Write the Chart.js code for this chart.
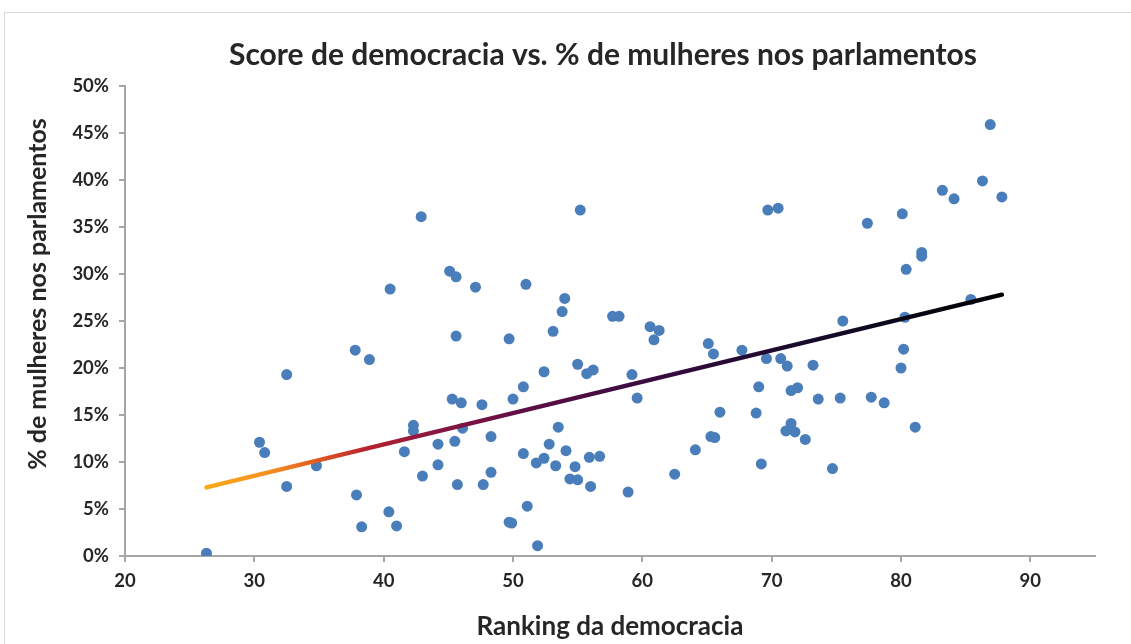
<!DOCTYPE html>
<html lang="pt">
<head>
<meta charset="utf-8">
<title>Score de democracia vs. % de mulheres nos parlamentos</title>
<script src="https://cdn.jsdelivr.net/npm/chart.js@4.4.1/dist/chart.umd.min.js"></script>
<style>
    html, body { margin: 0; padding: 0; background: #fff; overflow: hidden; }
    #wrap { position: relative; width: 1131px; height: 644px; }
    #frame {
        position: absolute; left: 4px; top: 12px; width: 1200px; height: 700px;
        border: 1px solid #d9d9d9; pointer-events: none;
    }
</style>
</head>
<body>
<div id="wrap">
    <canvas id="scatterChart" width="1131" height="644"></canvas>
    <div id="frame"></div>
</div>
<script>
// Data
const chartTitle = 'Score de democracia vs. % de mulheres nos parlamentos';
const xTitle = 'Ranking da democracia';
const yTitle = '% de mulheres nos parlamentos';

// Ranking da democracia (x) and % de mulheres (y), one entry per country
const rankings = [
    26.3, 30.4, 30.8, 32.5, 32.5, 34.8, 37.8, 38.9, 37.9, 38.3,
    40.5, 40.4, 41.0, 41.6, 42.3, 42.3, 42.9, 43.0, 44.2, 44.2,
    45.1, 45.6, 45.3, 46.0, 45.6, 45.5, 45.7, 46.1, 47.1, 47.6,
    47.7, 48.3, 48.3, 49.7, 49.7, 49.9, 50.0, 50.8, 51.0, 50.8,
    51.1, 51.8, 51.9, 52.4, 52.4, 52.8, 53.1, 53.3, 53.5, 53.8,
    54.0, 54.1, 54.4, 54.8, 55.0, 55.0, 55.2, 55.7, 55.9, 56.0,
    56.2, 56.7, 57.7, 58.2, 58.9, 59.2, 59.6, 60.6, 61.3, 60.9,
    62.5, 64.1, 65.1, 65.5, 65.3, 65.6, 66.0, 67.7, 68.8, 69.0,
    69.2, 69.6, 69.7, 70.5, 70.7, 71.2, 71.1, 71.5, 71.8, 71.5,
    72.0, 72.6, 73.2, 73.6, 74.7, 75.3, 75.5, 77.4, 77.7, 78.7,
    80.0, 80.2, 80.1, 80.3, 80.4, 81.1, 81.6, 81.6, 83.2, 84.1,
    85.4, 86.3, 86.9, 87.8
];
const womenPct = [
    0.3, 12.1, 11.0, 19.3, 7.4, 9.6, 21.9, 20.9, 6.5, 3.1,
    28.4, 4.7, 3.2, 11.1, 13.9, 13.3, 36.1, 8.5, 11.9, 9.7,
    30.3, 29.7, 16.7, 16.3, 23.4, 12.2, 7.6, 13.6, 28.6, 16.1,
    7.6, 12.7, 8.9, 23.1, 3.6, 3.5, 16.7, 18.0, 28.9, 10.9,
    5.3, 9.9, 1.1, 10.4, 19.6, 11.9, 23.9, 9.6, 13.7, 26.0,
    27.4, 11.2, 8.2, 9.5, 8.1, 20.4, 36.8, 19.4, 10.5, 7.4,
    19.8, 10.6, 25.5, 25.5, 6.8, 19.3, 16.8, 24.4, 24.0, 23.0,
    8.7, 11.3, 22.6, 21.5, 12.7, 12.6, 15.3, 21.9, 15.2, 18.0,
    9.8, 21.0, 36.8, 37.0, 21.0, 20.2, 13.3, 14.1, 13.2, 17.6,
    17.9, 12.4, 20.3, 16.7, 9.3, 16.8, 25.0, 35.4, 16.9, 16.3,
    20.0, 22.0, 36.4, 25.4, 30.5, 13.7, 32.3, 31.9, 38.9, 38.0,
    27.3, 39.9, 45.9, 38.2
];

// Trend line end points
const trendX = [26.3, 87.8];
const trendY = [7.3, 27.8];

// Axis ranges / ticks
const xMin = 20, xMax = 95, xStep = 10;
const yMin = 0, yMax = 50, yStep = 5;

const pointColor = '#4a7ebb';
const axisColor = '#a6a6a6';
const textColor = '#262626';
const fontFamily = 'Lato, "Open Sans", sans-serif';

// Gradient for the trend line (orange -> red -> purple -> black)
function trendGradient(context) {
    const chart = context.chart;
    const { ctx, chartArea, scales } = chart;
    if (!chartArea) return '#000';
    const x0 = scales.x.getPixelForValue(trendX[0]);
    const x1 = scales.x.getPixelForValue(trendX[trendX.length - 1]);
    const g = ctx.createLinearGradient(x0, 0, x1, 0);
    g.addColorStop(0, '#fbaa1a');
    g.addColorStop(0.08, '#f59020');
    g.addColorStop(0.14, '#e05a22');
    g.addColorStop(0.2, '#b8232f');
    g.addColorStop(0.27, '#8f1840');
    g.addColorStop(0.4, '#5e0f45');
    g.addColorStop(0.52, '#400c42');
    g.addColorStop(0.65, '#280a38');
    g.addColorStop(0.8, '#120a25');
    g.addColorStop(1, '#000000');
    return g;
}

// Title and vertical axis title
const textPlugin = {
    id: 'textPlugin',
    afterDraw(chart) {
        const { ctx, chartArea } = chart;
        const midX = (chartArea.left + chartArea.right) / 2;
        ctx.save();
        ctx.fillStyle = textColor;
        ctx.textAlign = 'center';
        ctx.textBaseline = 'middle';
        ctx.font = 'bold 30px ' + fontFamily;
        ctx.fillText(chartTitle, midX - 7, 55);

        ctx.translate(38, 294);
        ctx.rotate(-Math.PI / 2);
        ctx.font = 'bold 25px ' + fontFamily;
        ctx.fillText(yTitle, 0, 0);
        ctx.restore();
    }
};

const ctx = document.getElementById('scatterChart').getContext('2d');

new Chart(ctx, {
    type: 'scatter',
    data: {
        datasets: [
            {
                type: 'line',
                label: 'Tendência',
                data: trendX.map((x, i) => ({ x, y: trendY[i] })),
                borderColor: trendGradient,
                borderWidth: 4.5,
                borderCapStyle: 'round',
                pointRadius: 0,
                fill: false,
                order: 0
            },
            {
                label: '% de mulheres',
                data: rankings.map((x, i) => ({ x, y: womenPct[i] })),
                backgroundColor: pointColor,
                borderColor: pointColor,
                borderWidth: 0,
                pointRadius: 5.5,
                order: 1
            }
        ]
    },
    options: {
        responsive: false,
        animation: false,
        layout: { padding: { top: 86, right: 36, left: 0, bottom: 0 } },
        plugins: {
            legend: { display: false },
            tooltip: { enabled: false }
        },
        scales: {
            x: {
                type: 'linear',
                min: xMin,
                max: xMax,
                afterFit: s => { s.height = 88; },
                border: { display: true, color: axisColor, width: 2 },
                grid: { display: true, drawOnChartArea: false, drawTicks: true, tickLength: 6, color: axisColor, lineWidth: 2 },
                ticks: {
                    stepSize: xStep,
                    includeBounds: false,
                    padding: 8,
                    color: textColor,
                    font: { family: fontFamily, size: 18.5, weight: 'bold' }
                },
                title: {
                    display: true,
                    text: xTitle,
                    color: textColor,
                    padding: { top: 0, bottom: 2 },
                    font: { family: fontFamily, size: 26, weight: 'bold' }
                }
            },
            y: {
                type: 'linear',
                min: yMin,
                max: yMax,
                afterFit: s => { s.width = 125; },
                border: { display: true, color: axisColor, width: 2 },
                grid: { display: true, drawOnChartArea: false, drawTicks: true, tickLength: 6, color: axisColor, lineWidth: 2 },
                ticks: {
                    stepSize: yStep,
                    padding: 10,
                    color: textColor,
                    font: { family: fontFamily, size: 18.5, weight: 'bold' },
                    callback: v => v + '%'
                }
            }
        }
    },
    plugins: [textPlugin]
});
</script>
</body>
</html>
